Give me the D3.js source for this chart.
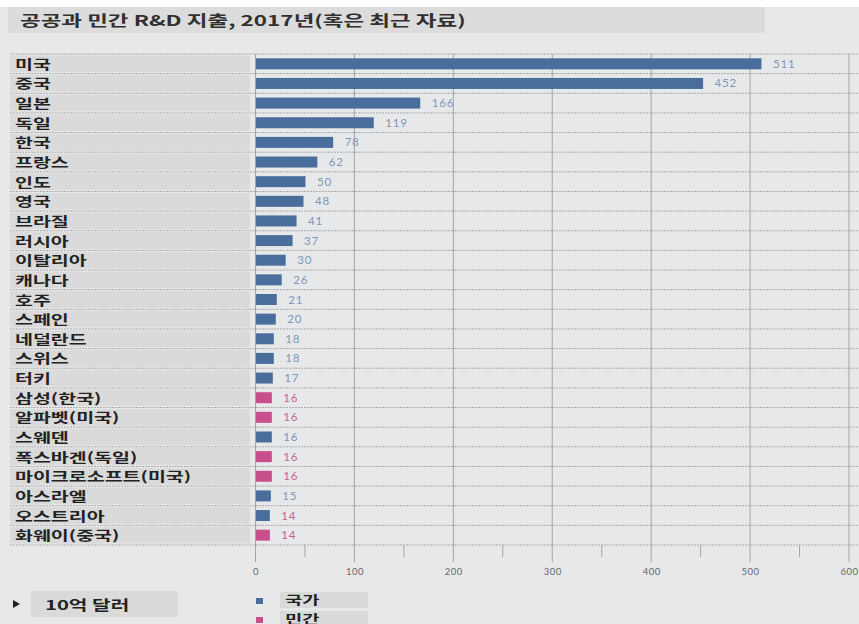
<!DOCTYPE html>
<html>
<head>
<meta charset="utf-8">
<script src="https://cdn.jsdelivr.net/npm/d3@7"></script>
<style>
  body { margin: 0; background: #ffffff; }
  svg { display: block; font-family: "Noto Sans CJK KR", "Noto Sans", sans-serif; }
</style>
</head>
<body>
<svg id="chart" width="859" height="624"></svg>
<script>
// data (billion dollars)
const names = ['미국', '중국', '일본', '독일', '한국', '프랑스', '인도', '영국', '브라질', '러시아',
  '이탈리아', '캐나다', '호주', '스페인', '네덜란드', '스위스', '터키', '삼성(한국)', '알파벳(미국)',
  '스웨덴', '폭스바겐(독일)', '마이크로소프트(미국)', '아스라엘', '오스트리아', '화웨이(중국)']
const values = [511, 452, 166, 119, 78, 62, 50, 48, 41, 37, 30, 26, 21, 20, 18, 18, 17, 16, 16, 16, 16, 16, 15, 14, 14]
const kinds = ['국가', '국가', '국가', '국가', '국가', '국가', '국가', '국가', '국가', '국가',
  '국가', '국가', '국가', '국가', '국가', '국가', '국가', '민간', '민간',
  '국가', '민간', '민간', '국가', '국가', '민간']
// the value label of 오스트리아 is printed in the 민간 colour in the source
const labelKinds = kinds.map((k, i) => names[i] === '오스트리아' ? '민간' : k)
const xTicks = [0, 100, 200, 300, 400, 500, 600]
const legendKeys = ['국가', '민간']

const rows = names.map((n, i) => ({ name: n, value: values[i], kind: kinds[i], labelKind: labelKinds[i] }))

// the Korean type in the picture is drawn wide
const WIDE = 'scale(1.5,1)'

const svg = d3.select('#chart')
const barColor = d3.scaleOrdinal().domain(legendKeys).range(['#4a6e9b', '#c64f8c'])
const textColor = d3.scaleOrdinal().domain(legendKeys).range(['#7f97ba', '#cc5f98'])

const x = d3.scaleLinear().domain([0, 600]).range([255.5, 849])
const y = d3.scaleBand().domain(names).range([54, 545]).paddingInner(0)

// background
svg.append('rect').attr('x', 0).attr('y', 7).attr('width', 859).attr('height', 617).attr('fill', '#e7e8ea')

// title
svg.append('rect').attr('x', 8).attr('y', 7).attr('width', 757).attr('height', 26).attr('fill', '#dcdcdd')
svg.append('text').attr('transform', 'translate(20,26) ' + WIDE)
  .attr('font-size', 15).attr('font-weight', 'bold').attr('fill', '#303030')
  .text('공공과 민간 R&D 지출, 2017년(혹은 최근 자료)')

// label boxes
svg.selectAll('.lbox')
  .data(rows)
  .join('rect')
  .attr('class', 'lbox')
  .attr('x', 10)
  .attr('y', d => y(d.name) + 1.5)
  .attr('width', 240)
  .attr('height', y.bandwidth() - 3)
  .attr('fill', '#dadada')

// horizontal dashed separators
const seps = names.map(n => y(n)).concat([545])
svg.selectAll('.sep')
  .data(seps)
  .join('line')
  .attr('class', 'sep')
  .attr('x1', 10).attr('x2', 859)
  .attr('y1', d => d).attr('y2', d => d)
  .attr('stroke', '#9a9a9a')
  .attr('stroke-width', 0.8)
  .attr('stroke-dasharray', '2,1')

// vertical gridlines
svg.selectAll('.grid')
  .data(xTicks)
  .join('line')
  .attr('class', 'grid')
  .attr('x1', d => x(d)).attr('x2', d => x(d))
  .attr('y1', 54).attr('y2', 562)
  .attr('stroke', '#a4a4a4')
  .attr('stroke-width', 1)

// minor ticks at the bottom
const minor = d3.range(50, 600, 100)
svg.selectAll('.minor')
  .data(minor)
  .join('line')
  .attr('class', 'minor')
  .attr('x1', d => x(d)).attr('x2', d => x(d))
  .attr('y1', 545).attr('y2', 557)
  .attr('stroke', '#a4a4a4')
  .attr('stroke-width', 1)

// axis labels
const axis = d3.axisBottom(x).tickValues(xTicks).tickSize(0).tickPadding(0)
const axisG = svg.append('g').attr('transform', 'translate(0,568)').call(axis)
axisG.select('.domain').remove()
axisG.selectAll('text')
  .attr('font-family', 'Lato, "Noto Sans", sans-serif')
  .attr('font-size', 9.5)
  .attr('letter-spacing', 0.5)
  .attr('fill', '#666')
  .attr('dy', '0.71em')

// bars
svg.selectAll('.bar')
  .data(rows)
  .join('rect')
  .attr('class', 'bar')
  .attr('x', x(0) + 0.5)
  .attr('y', d => y(d.name) + y.bandwidth() / 2 - 5.5)
  .attr('width', d => x(d.value) - x(0))
  .attr('height', 11)
  .attr('fill', d => barColor(d.kind))

// value labels
svg.selectAll('.val')
  .data(rows)
  .join('text')
  .attr('class', 'val')
  .attr('x', d => x(d.value) + 12)
  .attr('y', d => y(d.name) + y.bandwidth() / 2 + 4)
  .attr('font-family', 'Lato, "Noto Sans", sans-serif')
  .attr('font-size', 11.5)
  .attr('letter-spacing', 0.8)
  .attr('fill', d => textColor(d.labelKind))
  .text(d => d.value)

// row names
svg.selectAll('.name')
  .data(rows)
  .join('text')
  .attr('class', 'name')
  .attr('transform', d => 'translate(15,' + (y(d.name) + y.bandwidth() / 2 + 5) + ') ' + WIDE)
  .attr('font-size', 13)
  .attr('font-weight', 'bold')
  .attr('fill', '#222')
  .text(d => d.name)

// unit box
svg.append('path').attr('d', 'M13,600 L20,604 L13,608 Z').attr('fill', '#222')
svg.append('rect').attr('x', 31).attr('y', 591).attr('width', 147).attr('height', 26).attr('fill', '#dadada')
svg.append('text').attr('transform', 'translate(45,610) ' + WIDE)
  .attr('font-size', 13.5).attr('font-weight', 'bold').attr('fill', '#222')
  .text('10억 달러')

// legend
const leg = svg.selectAll('.leg')
  .data(legendKeys)
  .join('g')
  .attr('class', 'leg')
  .attr('transform', (d, i) => 'translate(0,' + (592 + i * 19) + ')')
leg.append('rect').attr('x', 256).attr('y', 6).attr('width', 7).attr('height', 6)
  .attr('fill', d => barColor(d))
leg.append('rect').attr('x', 280).attr('y', 0).attr('width', 88).attr('height', 16)
  .attr('fill', '#dadada')
leg.append('text').attr('transform', 'translate(285,13) ' + WIDE)
  .attr('font-size', 12.5).attr('font-weight', 'bold').attr('fill', '#222')
  .text(d => d)
</script>
</body>
</html>
